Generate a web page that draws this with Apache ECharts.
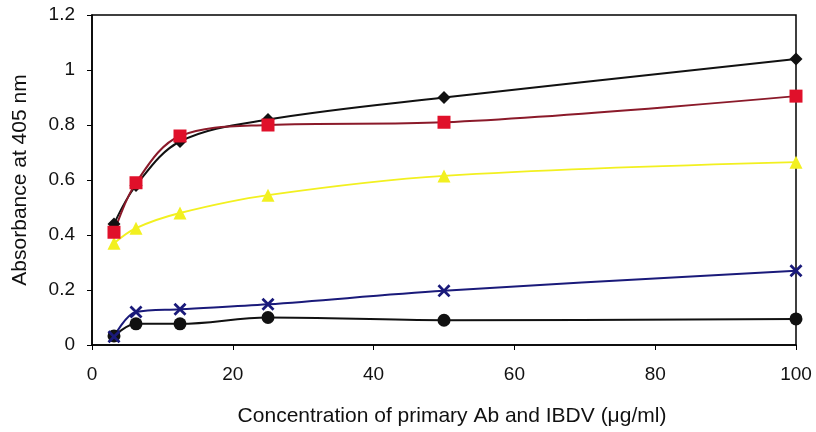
<!DOCTYPE html>
<html><head><meta charset="utf-8">
<script src="https://cdn.jsdelivr.net/npm/echarts@6/dist/echarts.min.js"></script>
<style>html,body{margin:0;padding:0;background:#fff}#c{width:816px;height:432px}</style>
</head><body><div id="c"></div>
<script>
const concentrations = [3.125, 6.25, 12.5, 25, 50, 100];
const seriesDiamond = [0.44, 0.58, 0.74, 0.82, 0.90, 1.04];
const seriesSquare = [0.41, 0.59, 0.76, 0.80, 0.81, 0.905];
const seriesTriangle = [0.37, 0.425, 0.48, 0.545, 0.615, 0.665];
const seriesCross = [0.03, 0.12, 0.13, 0.148, 0.197, 0.27];
const seriesCircle = [0.033, 0.077, 0.077, 0.10, 0.09, 0.095];
const xTitle = 'Concentration of primary Ab and IBDV (\u03bcg/ml)';
const yTitle = 'Absorbance at 405 nm';

const pair = arr => concentrations.map((c, i) => [c, arr[i]]);
const crossPath = 'path://M0,1.5L1.5,0L5,3.5L8.5,0L10,1.5L6.5,5L10,8.5L8.5,10L5,6.5L1.5,10L0,8.5L3.5,5Z';
const font = 'Liberation Sans, Arial, sans-serif';
function mk(data, lineColor, markColor, symbol, size) {
  return {
    type: 'line', data: pair(data), smooth: 0.35,
    symbol: symbol, symbolSize: size,
    lineStyle: { color: lineColor, width: 2 },
    itemStyle: { color: markColor, borderWidth: 0 },
    animation: false
  };
}
const chart = echarts.init(document.getElementById('c'));
chart.setOption({
  backgroundColor: '#fff',
  grid: { left: 92, right: 20, top: 15, bottom: 86, show: true, borderColor: '#000', borderWidth: 1.5 },
  xAxis: {
    type: 'value', min: 0, max: 100, interval: 20,
    name: xTitle, nameLocation: 'middle', nameGap: 61,
    nameTextStyle: { fontFamily: font, fontSize: 21, color: '#111', padding: [0, 0, 0, 16] },
    axisLine: { show: true, lineStyle: { color: '#000', width: 1.5 } },
    axisTick: { show: true, length: 5, lineStyle: { color: '#000' } },
    axisLabel: { fontFamily: font, fontSize: 19, color: '#111', margin: 20 },
    splitLine: { show: false }
  },
  yAxis: {
    type: 'value', min: 0, max: 1.2, interval: 0.2,
    name: yTitle, nameLocation: 'middle', nameGap: 61, nameRotate: 90,
    nameTextStyle: { fontFamily: font, fontSize: 21, color: '#111' },
    axisLine: { show: true, lineStyle: { color: '#000', width: 1.5 } },
    axisTick: { show: true, length: 5, lineStyle: { color: '#000' } },
    axisLabel: { fontFamily: font, fontSize: 19, color: '#111', margin: 17 },
    splitLine: { show: false }
  },
  series: [
    mk(seriesCircle, '#111', '#111', 'circle', 13),
    mk(seriesCross, '#1a1a7a', '#1a1a7a', crossPath, 13),
    mk(seriesTriangle, '#f2f020', '#f2f020', 'triangle', 13),
    mk(seriesDiamond, '#111', '#111', 'diamond', 13),
    mk(seriesSquare, '#8b1a2a', '#e0102a', 'rect', 13)
  ]
});
</script></body></html>
